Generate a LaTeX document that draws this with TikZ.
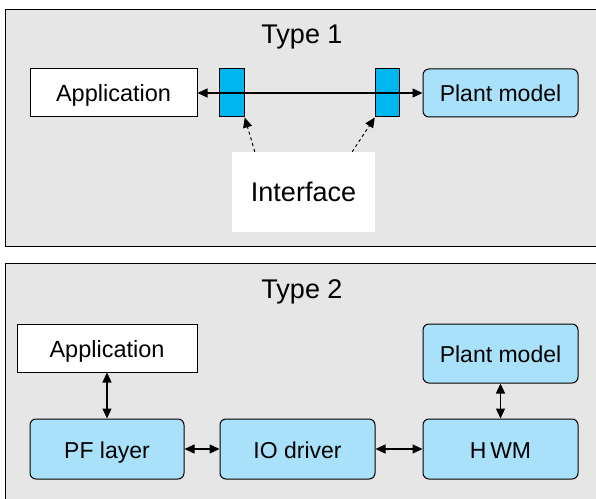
\documentclass[tikz,border=0pt]{standalone}
\usepackage{fontspec}
\setmainfont{Liberation Sans}
\usetikzlibrary{positioning,arrows.meta,calc}

\definecolor{panelgray}{HTML}{E6E6E6}
\definecolor{lightblue}{HTML}{A9E1FA}
\definecolor{ifblue}{HTML}{00B6EE}

\begin{document}
\begin{tikzpicture}[x=1pt, y=1pt, >={Triangle[length=10pt,width=9pt]},
  panel/.style={draw, line width=1pt, fill=panelgray},
  title/.style={font=\fontsize{27}{30}\selectfont},
  whitebox/.style={draw, line width=1pt, fill=white, inner sep=0pt,
    text height=19pt, text depth=1pt, font=\fontsize{23.5}{26}\selectfont},
  bluebox/.style={draw, line width=1pt, fill=lightblue, rounded corners=6pt,
    inner sep=0pt, minimum width=155pt, text height=19pt, text depth=1pt,
    font=\fontsize{23}{26}\selectfont},
  ifbox/.style={draw, line width=1pt, fill=ifblue, inner sep=0pt,
    minimum width=24.5pt, minimum height=48pt},
  link/.style={<->, line width=1.3pt}]
  \useasboundingbox (0,0) rectangle (596,498);

  % Type 1
  \draw[panel] (5.5,488.5) rectangle (602,251);
  \node[title] (t1) at (302,461) {Type 1};
  \node[whitebox, minimum width=167pt, minimum height=48pt] (app1) at (113.5,405) {Application};
  \node[bluebox, minimum height=48pt] (plant1) at (500.5,405) {Plant model};
  \node[ifbox] (ifl) at (232,405) {};
  \node[ifbox] (ifr) at (387.5,405) {};
  \draw[link] (app1.east) -- (plant1.west);
  \node[fill=white, inner sep=0pt, minimum width=143pt, minimum height=80pt,
    font=\fontsize{27}{30}\selectfont] (iface) at (303.5,306) {Interface};
  \draw[->, dashed, line width=1pt] ([xshift=23pt]iface.north west) -- (ifl.south east);
  \draw[->, dashed, line width=1pt] ([xshift=-23pt]iface.north east) -- (ifr.south west);

  % Type 2
  \draw[panel] (5.5,234) rectangle (602,-5);
  \node[title] (t2) at (302,206) {Type 2};
  \node[whitebox, minimum width=180pt, minimum height=48pt] (app2) at (107,150) {Application};
  \node[bluebox, minimum height=59pt] (plant2) at (500.5,144.5) {Plant model};
  \node[bluebox, minimum width=154pt, minimum height=60pt] (pf) at (107,49) {PF layer};
  \node[bluebox, minimum height=60pt] (io) at (297.5,49) {IO driver};
  \node[bluebox, minimum height=60pt] (hwm) at (500.5,49) {H\,WM};
  \draw[link] (app2) -- (pf);
  \draw[link] (plant2) -- (hwm);
  \draw[link] (pf) -- (io);
  \draw[link] (io) -- (hwm);
\end{tikzpicture}
\end{document}
